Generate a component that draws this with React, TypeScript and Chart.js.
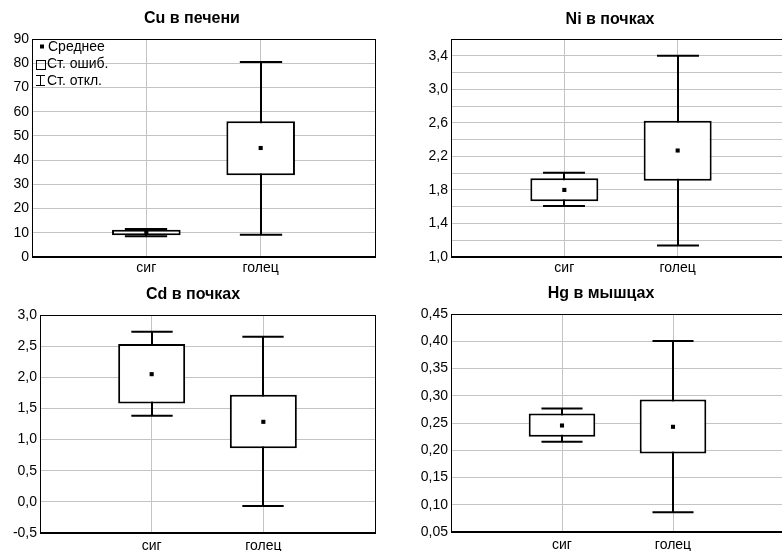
import { useEffect, useRef } from "react";
import { Chart, registerables } from "chart.js";

Chart.register(...registerables);
Chart.defaults.font.family = "'Liberation Sans', Arial, sans-serif";
Chart.defaults.color = "#000";

// Fish groups on the x axis
const groups = ["сиг", "голец"];

// Cu in liver: mean, standard error band, standard deviation band
const cuMean = [10.1, 45.0];
const cuSeLow = [9.0, 33.7];
const cuSeHigh = [11.3, 56.0];
const cuSdLow = [8.6, 9.2];
const cuSdHigh = [11.6, 80.5];

// Ni in kidneys
const niMean = [1.8, 2.27];
const niSeLow = [1.665, 1.91];
const niSeHigh = [1.94, 2.624];
const niSdLow = [1.608, 1.136];
const niSdHigh = [2.004, 3.4];

// Cd in kidneys
const cdMean = [2.05, 1.285];
const cdSeLow = [1.58, 0.862];
const cdSeHigh = [2.534, 1.719];
const cdSdLow = [1.382, -0.065];
const cdSdHigh = [2.732, 2.652];

// Hg in muscle
const hgMean = [0.2454, 0.243];
const hgSeLow = [0.2246, 0.194];
const hgSeHigh = [0.2675, 0.2932];
const hgSdLow = [0.2154, 0.0861];
const hgSdHigh = [0.2767, 0.4004];

const legendLabels = ["Среднее", "Ст. ошиб.", "Ст. откл."];

const GRID = "#c4c4c4";
const FONT = "'Liberation Sans', Arial, sans-serif";
const CAP_WIDTH = 0.37; // whisker cap width, in category units
const BOX_WIDTH = 0.6; // standard-error box width, in category units

type Panel = {
  title: string;
  mean: number[];
  seLow: number[];
  seHigh: number[];
  sdLow: number[];
  sdHigh: number[];
  yMin: number;
  yMax: number;
  yStep: number;
  labelEvery: number;
  decimals: number;
  legend: boolean;
  canvas: { x: number; y: number; w: number; h: number };
  area: { left: number; top: number; right: number; bottom: number };
  titleAt: { x: number; y: number };
  xPad: number;
};

const panels: Panel[] = [
  {
    title: "Cu в печени",
    mean: cuMean, seLow: cuSeLow, seHigh: cuSeHigh, sdLow: cuSdLow, sdHigh: cuSdHigh,
    yMin: 0, yMax: 90, yStep: 10, labelEvery: 1, decimals: 0, legend: true,
    canvas: { x: 0, y: 0, w: 391, h: 280 },
    area: { left: 32, top: 39, right: 375, bottom: 257 },
    titleAt: { x: 192, y: 19 },
    xPad: 3,
  },
  {
    title: "Ni в почках",
    mean: niMean, seLow: niSeLow, seHigh: niSeHigh, sdLow: niSdLow, sdHigh: niSdHigh,
    yMin: 1.0, yMax: 3.6, yStep: 0.2, labelEvery: 2, decimals: 1, legend: false,
    canvas: { x: 391, y: 0, w: 420, h: 280 },
    area: { left: 451, top: 39, right: 791, bottom: 257 },
    titleAt: { x: 610, y: 20 },
    xPad: 3,
  },
  {
    title: "Cd в почках",
    mean: cdMean, seLow: cdSeLow, seHigh: cdSeHigh, sdLow: cdSdLow, sdHigh: cdSdHigh,
    yMin: -0.5, yMax: 3.0, yStep: 0.5, labelEvery: 1, decimals: 1, legend: false,
    canvas: { x: 0, y: 280, w: 391, h: 271 },
    area: { left: 40, top: 315, right: 375, bottom: 533 },
    titleAt: { x: 193, y: 295 },
    xPad: 5,
  },
  {
    title: "Hg в мышцах",
    mean: hgMean, seLow: hgSeLow, seHigh: hgSeHigh, sdLow: hgSdLow, sdHigh: hgSdHigh,
    yMin: 0.05, yMax: 0.45, yStep: 0.05, labelEvery: 1, decimals: 2, legend: false,
    canvas: { x: 391, y: 280, w: 420, h: 271 },
    area: { left: 451, top: 314, right: 784, bottom: 532 },
    titleAt: { x: 601, y: 294 },
    xPad: 5,
  },
];

function buildConfig(p: Panel): any {
  const cx = p.canvas.x;
  const cy = p.canvas.y;
  const xs = groups.map((_, i) => i + 1);

  const titlePlugin = {
    id: "panelTitle",
    afterDraw(chart: any) {
      const ctx = chart.ctx;
      ctx.save();
      ctx.font = `bold 16px ${FONT}`;
      ctx.fillStyle = "#000";
      ctx.textAlign = "center";
      ctx.textBaseline = "middle";
      ctx.fillText(p.title, p.titleAt.x - cx, p.titleAt.y - cy);
      ctx.restore();
    },
  };

  const framePlugin = {
    id: "frame",
    beforeDatasetsDraw(chart: any) {
      const { ctx, chartArea: a } = chart;
      ctx.save();
      ctx.strokeStyle = "#000";
      ctx.lineWidth = 1;
      ctx.strokeRect(Math.round(a.left) + 0.5, Math.round(a.top) + 0.5, Math.round(a.right - a.left), Math.round(a.bottom - a.top));
      ctx.lineWidth = 2;
      ctx.beginPath();
      ctx.moveTo(a.left, Math.round(a.bottom));
      ctx.lineTo(a.right, Math.round(a.bottom));
      ctx.stroke();
      ctx.restore();
    },
  };

  const whiskerPlugin = {
    id: "whiskers",
    beforeDatasetsDraw(chart: any) {
      const { ctx } = chart;
      const xScale = chart.scales.x;
      const yScale = chart.scales.y;
      const half = xScale.getPixelForValue(1 + CAP_WIDTH / 2) - xScale.getPixelForValue(1);
      ctx.save();
      ctx.strokeStyle = "#000";
      ctx.lineWidth = 2;
      xs.forEach((xv, i) => {
        const px = Math.round(xScale.getPixelForValue(xv));
        const top = yScale.getPixelForValue(p.sdHigh[i]);
        const bot = yScale.getPixelForValue(p.sdLow[i]);
        ctx.beginPath();
        ctx.moveTo(px, top);
        ctx.lineTo(px, bot);
        ctx.moveTo(px - half, top);
        ctx.lineTo(px + half, top);
        ctx.moveTo(px - half, bot);
        ctx.lineTo(px + half, bot);
        ctx.stroke();
      });
      ctx.restore();
    },
  };

  const legendPlugin = {
    id: "statLegend",
    afterDraw(chart: any) {
      if (!p.legend) return;
      const { ctx, chartArea: a } = chart;
      const l = a.left;
      const t = a.top;
      ctx.save();
      ctx.fillStyle = "#000";
      ctx.strokeStyle = "#000";
      ctx.font = `14px ${FONT}`;
      ctx.textBaseline = "middle";
      ctx.textAlign = "left";
      // mean marker
      ctx.fillRect(l + 8, t + 5.5, 4, 4);
      ctx.fillText(legendLabels[0], l + 16, t + 8);
      // standard-error box
      ctx.lineWidth = 1;
      ctx.strokeRect(l + 4.5, t + 21.5, 9, 9);
      ctx.fillText(legendLabels[1], l + 15, t + 25.5);
      // standard-deviation whisker
      ctx.beginPath();
      ctx.moveTo(l + 4, t + 36.5);
      ctx.lineTo(l + 13, t + 36.5);
      ctx.moveTo(l + 8.5, t + 36.5);
      ctx.lineTo(l + 8.5, t + 46.5);
      ctx.moveTo(l + 4, t + 46.5);
      ctx.lineTo(l + 13, t + 46.5);
      ctx.stroke();
      ctx.fillText(legendLabels[2], l + 15, t + 42);
      ctx.restore();
    },
  };

  const fmt = (v: number) => {
    const k = Math.round((v - p.yMin) / p.yStep);
    if (k % p.labelEvery !== 0) return "";
    return v.toFixed(p.decimals).replace(".", ",");
  };

  return {
    type: "scatter",
    data: {
      datasets: [
        {
          type: "scatter",
          order: 0,
          data: xs.map((x, i) => ({ x, y: p.mean[i] })),
          pointStyle: "rect",
          pointRadius: 2.9,
          pointHoverRadius: 2.9,
          backgroundColor: "#000",
          borderWidth: 0,
        },
        {
          type: "bar",
          order: 1,
          data: xs.map((x, i) => ({ x, y: [p.seLow[i], p.seHigh[i]] })),
          backgroundColor: "#fff",
          borderColor: "#000",
          borderWidth: 2,
          borderSkipped: false,
          barPercentage: BOX_WIDTH,
          categoryPercentage: 1,
        },
      ],
    },
    options: {
      animation: false,
      responsive: false,
      devicePixelRatio: 1,
      events: [],
      layout: {
        padding: {
          left: 0,
          top: p.area.top - cy,
          right: cx + p.canvas.w - p.area.right,
          bottom: 0,
        },
      },
      plugins: {
        legend: { display: false },
        tooltip: { enabled: false },
        title: { display: false },
      },
      scales: {
        x: {
          type: "linear",
          min: 0,
          max: 3,
          offset: false,
          afterFit: (s: any) => {
            s.height = cy + p.canvas.h - p.area.bottom;
          },
          ticks: {
            stepSize: 1,
            autoSkip: false,
            maxRotation: 0,
            padding: p.xPad,
            color: "#000",
            font: { size: 14 },
            callback: (v: number) => groups[v - 1] ?? "",
          },
          grid: {
            offset: false,
            drawTicks: false,
            lineWidth: 1,
            color: (c: any) => (c.tick && (c.tick.value === 1 || c.tick.value === 2) ? GRID : "rgba(0,0,0,0)"),
          },
          border: { display: false },
        },
        y: {
          type: "linear",
          min: p.yMin,
          max: p.yMax,
          afterFit: (s: any) => {
            s.width = p.area.left - cx;
          },
          ticks: {
            stepSize: p.yStep,
            autoSkip: false,
            padding: 3,
            color: "#000",
            font: { size: 14 },
            callback: (v: number) => fmt(v),
          },
          grid: { drawTicks: false, lineWidth: 1, color: GRID },
          border: { display: false },
        },
      },
    },
    plugins: [framePlugin, whiskerPlugin, legendPlugin, titlePlugin],
  };
}

function BoxPanel({ panel }: { panel: Panel }) {
  const ref = useRef<HTMLCanvasElement | null>(null);
  useEffect(() => {
    if (!ref.current) return;
    const chart = new Chart(ref.current, buildConfig(panel));
    return () => chart.destroy();
  }, [panel]);
  return (
    <canvas
      ref={ref}
      width={panel.canvas.w}
      height={panel.canvas.h}
      style={{
        position: "absolute",
        left: panel.canvas.x,
        top: panel.canvas.y,
        width: panel.canvas.w,
        height: panel.canvas.h,
      }}
    />
  );
}

export default function App() {
  return (
    <div
      style={{
        position: "fixed",
        left: 0,
        top: 0,
        width: 782,
        height: 551,
        overflow: "hidden",
        background: "#fff",
      }}
    >
      {panels.map((p) => (
        <BoxPanel key={p.title} panel={p} />
      ))}
    </div>
  );
}
